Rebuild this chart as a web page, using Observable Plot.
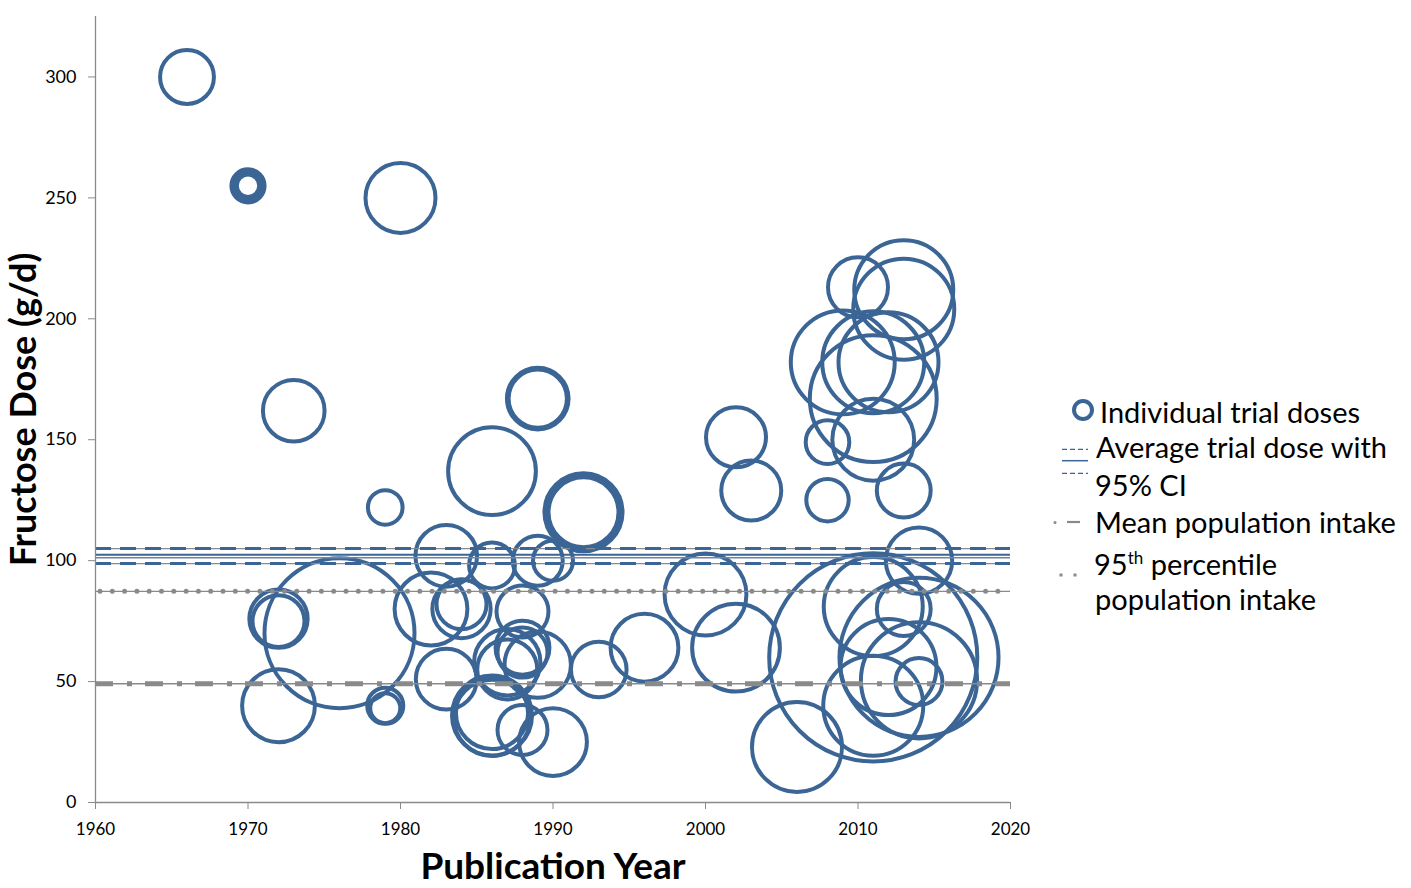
<!DOCTYPE html>
<html>
<head>
<meta charset="utf-8">
<script src="https://cdn.jsdelivr.net/npm/d3@7"></script>
<script src="https://cdn.jsdelivr.net/npm/@observablehq/plot@0.6"></script>
<style>
  html, body { margin: 0; padding: 0; background: white; }
  #wrap { position: relative; width: 1411px; height: 888px; overflow: hidden; font-family: Lato, "Open Sans", sans-serif; }
  .lg { position: absolute; font-size: 29px; line-height: 30px; height: 30px; color: #000; white-space: nowrap; }
  .lg sup { font-size: 17px; line-height: 0; vertical-align: 11px; }
  #legendIcons { position: absolute; left: 1040px; top: 390px; }
</style>
</head>
<body>
<div id="wrap"></div>
<script>
// ---- data ----
const years = [1966,1970,1970,1970,1980,1973,1979,1986,1989,1989,1992,1992,1992,2002,2003,2008,2008,2010,2013,2013,2009,2011,2012,2011,2011,2013,2014,2011,2014,2011,2013,2012,2014,2014,2011,2006,2002,2000,1996,1993,1990,1990,1989,1988,1988,1986,1983,1983,1982,1984,1984,1987,1987,1988,1988,1989,1986,1986,1986,1976,1972,1972,1972,1979,1979];
const doses = [300,255,255,255,250,162,122,137,167,167,120,120,120,151,129,149,125,213,212,204,182,182,182,167,150,129,100,60,60,81,80,56,50.5,50,40,23,64,86,64,55,25,100,100,30,79,98,102,51,80,80,82,58,55,64,62,57,36,35,37,70,76,75,40,40,39];
const participants = [29,11,8,5,49,38,12,77,38,34,61,55,49,36,36,19,18,36,98,102,108,104,100,161,67,29,44,433,253,98,29,92,135,22,100,81,77,67,46,31,46,16,25,25,27,21,38,37,53,34,25,44,36,29,25,44,64,58,52,225,34,27,53,13,9];

const xTicks = [1960,1970,1980,1990,2000,2010,2020];
const yTicks = [0,50,100,150,200,250,300];

const avgTrialDose = [102.4];
const avgTrialDose2 = [101.2];
const ciBounds = [105, 98.8];
const popMean = [49.1];
const pop95 = [87.3];

const trials = years.map((y, i) => ({year: y, dose: doses[i], n: participants[i]}));

const blue = "#3B6595";
const gray = "#8a8a8a";

const chart = Plot.plot({
  width: 1411,
  height: 888,
  marginLeft: 95,
  marginRight: 401,
  marginTop: 16,
  marginBottom: 86,
  style: {fontFamily: "Lato, 'Open Sans', sans-serif", background: "white", overflow: "visible"},
  x: {domain: [1960, 2020]},
  y: {domain: [0, 325]},
  r: {type: "sqrt", domain: [0, 100], range: [0, 50]},
  marks: [
    Plot.dot(trials, {x: "year", y: "dose", r: "n", stroke: blue, strokeWidth: 4, fill: "none"}),
    // average trial dose with CI
    Plot.ruleY(ciBounds, {stroke: gray, strokeWidth: 1.3}),
    Plot.ruleY(ciBounds, {stroke: blue, strokeWidth: 3, strokeDasharray: "16 9"}),
    Plot.ruleY(avgTrialDose, {stroke: blue, strokeWidth: 2}),
    Plot.ruleY(avgTrialDose2, {stroke: "#6f86a6", strokeWidth: 1.3}),
    // 95th percentile population intake
    Plot.ruleY(pop95, {stroke: gray, strokeWidth: 1.3}),
    Plot.ruleY(pop95, {stroke: gray, strokeWidth: 5, strokeDasharray: "0 12.3", strokeLinecap: "round", strokeDashoffset: -5}),
    // mean population intake
    Plot.ruleY(popMean, {stroke: gray, strokeWidth: 1.3}),
    Plot.ruleY(popMean, {stroke: gray, strokeWidth: 5, strokeDasharray: "18 14 5 13"}),
    // axes
    Plot.ruleX([1960], {stroke: gray, strokeWidth: 1.3}),
    Plot.ruleY([0], {stroke: gray, strokeWidth: 1.3}),
    Plot.axisX({ticks: xTicks, tickFormat: d => String(d), tickSize: 7, tickPadding: 13, fontSize: 17, stroke: gray, fill: "black", label: null}),
    Plot.axisY({ticks: yTicks, tickFormat: d => String(d), tickSize: 7, tickPadding: 12, fontSize: 18, stroke: gray, fill: "black", label: null}),
    Plot.text(["Fructose Dose (g/d)"], {frameAnchor: "left", dx: -71, rotate: -90, textAnchor: "middle", lineAnchor: "middle", fontSize: 36, fontWeight: "bold", fill: "black"}),
    Plot.text(["Publication Year"], {frameAnchor: "bottom", dy: 65, textAnchor: "middle", lineAnchor: "middle", fontSize: 37, fontWeight: "bold", fill: "black"})
  ]
});

const wrap = document.getElementById("wrap");
wrap.appendChild(chart);

// ---- legend ----
const legendLines = [
  {text: "Individual trial doses", left: 1100, baseline: 423},
  {text: "Average trial dose with", left: 1096, baseline: 458},
  {text: "95% CI", left: 1095, baseline: 496},
  {text: "Mean population intake", left: 1095, baseline: 533},
  {text: "95<sup>th</sup> percentile", left: 1094, baseline: 575},
  {text: "population intake", left: 1095, baseline: 610}
];
for (const l of legendLines) {
  const d = document.createElement("div");
  d.className = "lg";
  d.style.left = l.left + "px";
  d.style.top = (l.baseline - 26) + "px";
  d.innerHTML = l.text;
  wrap.appendChild(d);
}
const ns = "http://www.w3.org/2000/svg";
const ic = document.createElementNS(ns, "svg");
ic.setAttribute("id", "legendIcons");
ic.setAttribute("width", "60");
ic.setAttribute("height", "230");
ic.innerHTML = `
  <circle cx="43" cy="20" r="9" fill="none" stroke="${blue}" stroke-width="4"/>
  <line x1="22" x2="48" y1="59.3" y2="59.3" stroke="${blue}" stroke-width="1.3" stroke-dasharray="5 3"/>
  <line x1="22" x2="48" y1="70.7" y2="70.7" stroke="${blue}" stroke-width="1.5"/>
  <line x1="22" x2="48" y1="83.3" y2="83.3" stroke="${blue}" stroke-width="1.3" stroke-dasharray="5 3"/>
  <circle cx="15" cy="132.5" r="1.5" fill="${gray}"/>
  <line x1="27" x2="40" y1="132" y2="132" stroke="${gray}" stroke-width="2.2"/>
  <rect x="19.5" y="183.5" width="3" height="3" fill="${gray}"/>
  <rect x="33.5" y="183.5" width="3" height="3" fill="${gray}"/>
`;
wrap.appendChild(ic);
</script>
</body>
</html>
